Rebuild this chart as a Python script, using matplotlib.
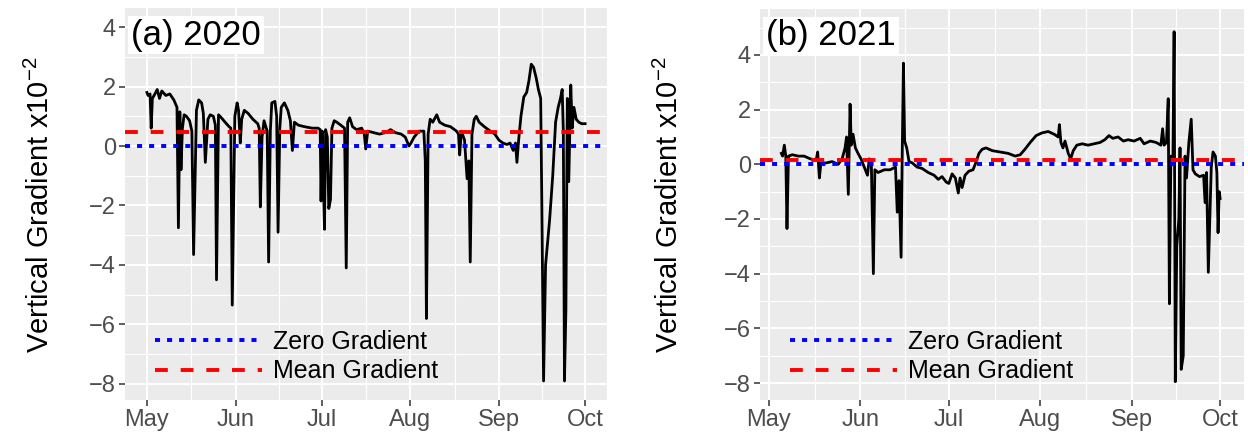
import matplotlib
matplotlib.use("Agg")
import matplotlib.pyplot as plt
import matplotlib.dates as mdates
from matplotlib.lines import Line2D
from matplotlib.ticker import FixedLocator
import numpy as np
import pandas as pd

plt.rcParams['font.family'] = ['Liberation Sans', 'DejaVu Sans']
plt.rcParams['mathtext.default'] = 'regular'

# 2020 series: days after May 1, gradient x1e-2
days_2020 = [0.0, 0.4, 1.1, 1.5, 1.9, 2.8, 3.6, 4.4, 5.2, 6.6, 8.0, 9.4, 10.5, 11.0, 11.5, 11.9,
             12.4, 13.0, 13.8, 14.9, 15.7, 16.3, 17.3, 18.1, 19.1, 19.7, 20.4, 21.3, 22.1, 23.2,
             23.9, 24.3, 25.0, 26.0, 27.3, 28.7, 29.3, 29.8, 30.7, 31.5, 32.0, 32.6, 33.1, 34.0,
             35.3, 37.0, 38.7, 39.2, 39.6, 40.2, 40.9, 42.0, 42.5, 43.1, 43.6, 44.7, 45.3, 45.8,
             46.4, 46.9, 48.0, 49.2, 50.1, 50.8, 51.5, 52.9, 55.0, 57.7, 59.8, 60.5, 60.8, 61.2,
             61.6, 62.0, 62.4, 63.0, 63.5, 64.1, 64.6, 65.4, 66.3, 67.7, 69.0, 69.6, 70.1, 70.8,
             71.8, 73.2, 75.0, 75.9, 76.4, 77.1, 79.1, 81.2, 83.3, 85.1, 86.7, 88.8, 90.2, 91.5,
             92.2, 93.3, 95.0, 96.7, 97.2, 97.6, 98.2, 98.9, 99.8, 101.2, 102.2, 104.0, 106.0,
             108.1, 108.8, 109.2, 109.8, 110.9, 111.8, 112.4, 112.9, 113.5, 114.3, 115.0, 116.0,
             117.8, 119.9, 121.5, 122.9, 124.3, 125.7, 126.8, 127.9, 128.7, 129.2, 129.8, 130.6,
             131.6, 132.6, 133.4, 134.2, 135.0, 135.9, 136.7, 137.5, 137.9, 138.5, 139.2, 140.6,
             141.7, 142.7, 143.6, 144.4, 145.0, 145.4, 145.8, 146.3, 146.8, 147.3, 148.0, 148.5,
             149.1, 149.9, 150.8, 151.8, 153.0]
grad_2020 = [1.8, 1.7, 1.75, 0.6, 1.6, 1.75, 1.9, 1.6, 1.85, 1.7, 1.75, 1.55, 1.3, -2.75, 1.15, -0.8,
             0.6, 1.05, 1.0, 0.85, 0.5, -3.65, 1.2, 1.55, 1.45, 1.1, -0.55, 0.9, 1.05, 1.0,
             0.7, -4.5, 1.05, 0.95, 0.8, 0.65, 0.6, -5.35, 1.0, 1.45, 1.2, 0.1, 0.9, 1.2,
             1.1, 0.9, 0.75, 0.6, -2.05, 0.3, 0.85, 0.5, -3.9, 0.5, 1.45, 1.5, 1.0, -2.9,
             0.6, 1.3, 1.45, 1.2, 0.85, -0.15, 0.8, 0.7, 0.65, 0.6, 0.6, 0.55, -1.85, 0.5,
             -1.0, -2.8, 0.55, 0.3, -2.1, -1.8, 0.6, 0.85, 0.8, 0.7, 0.6, -4.1, 0.8, 0.95,
             0.65, 0.55, 0.6, 0.4, -0.1, 0.5, 0.45, 0.4, 0.45, 0.55, 0.45, 0.4, 0.3, 0.0,
             0.1, 0.3, 0.5, 0.5, -0.5, -5.8, 0.4, 0.9, 0.8, 1.05, 0.8, 0.7, 0.65,
             0.5, 0.4, -0.3, 0.5, 0.2, -1.1, -0.5, -3.9, 0.4, 0.9, 1.0, 0.8,
             0.65, 0.5, 0.4, 0.2, 0.1, 0.05, 0.1, -0.15, 0.1, -0.55, 0.2, 1.0,
             1.65, 1.8, 2.2, 2.75, 2.65, 2.3, 1.9, 1.6, -2.0, -7.9, -4.0, -2.5,
             -1.0, 0.8, 1.3, 1.6, 1.9, 0.5, -7.9, -5.5, 1.6, -1.2, 2.05, 0.6,
             1.3, 0.9, 0.8, 0.75, 0.75]

# 2021 series: days after May 1, gradient x1e-2
days_2021 = [4.2, 4.6, 5.2, 5.7, 6.1, 6.6, 7.9, 9.9, 11.9, 14.0, 16.0, 16.5, 17.1, 17.6, 19.4, 21.4,
             23.5, 24.8, 25.8, 26.3, 26.9, 27.3, 27.5, 27.9, 28.5, 29.3, 30.2, 31.2, 32.3, 33.4,
             34.0, 34.7, 35.4, 35.9, 37.0, 39.1, 41.1, 42.9, 43.5, 44.1, 44.8, 45.2, 45.6, 46.0,
             46.7, 47.5, 48.6, 50.2, 51.9, 54.0, 56.0, 57.4, 58.7, 60.1, 61.0, 62.1, 63.2, 64.2,
             64.8, 65.5, 66.5, 67.8, 69.2, 70.3, 71.2, 72.3, 73.6, 75.7, 78.4, 81.1, 83.5, 85.2,
             86.8, 88.6, 90.6, 92.6, 94.7, 96.7, 98.1, 98.5, 99.0, 99.7, 100.4, 101.5, 102.3,
             103.2, 104.4, 106.2, 108.2, 110.3, 112.3, 113.9, 115.3, 116.6, 118.4, 120.2, 121.8,
             123.8, 125.9, 127.2, 129.3, 131.3, 132.9, 133.5, 134.0, 134.8, 135.4, 135.8, 136.3,
             137.0, 137.4, 137.8, 138.3, 139.0, 139.4, 139.8, 140.5, 141.1, 141.6, 142.4, 143.2,
             143.8, 144.6, 146.0, 147.4, 147.9, 148.4, 149.0, 149.5, 150.0, 150.6, 151.4, 151.9,
             152.3, 152.7, 153.0]
grad_2021 = [0.4, 0.3, 0.7, 0.3, -2.35, 0.3, 0.35, 0.3, 0.3, 0.2, 0.15, 0.45, -0.5, 0.05, 0.05, 0.1,
             0.0, 0.2, 0.6, 1.0, -1.1, 1.0, 2.2, 0.7, 1.1, 0.6, 0.4, 0.2, -0.1, -0.4,
             0.2, 0.1, -4.0, -0.2, -0.3, -0.2, -0.2, -0.1, -1.75, -0.6, -3.4, 0.5, 3.7, 0.85,
             0.6, 0.1, 0.05, -0.1, -0.15, -0.3, -0.4, -0.55, -0.45, -0.65, -0.7, -0.35, -0.5, -1.05,
             -0.5, -0.85, -0.4, -0.25, -0.2, 0.1, 0.4, 0.55, 0.6, 0.5, 0.45, 0.4, 0.3, 0.35,
             0.55, 0.8, 1.05, 1.15, 1.2, 1.1, 1.0, 1.45, 0.8, 0.6, 0.85, 0.4, 0.2,
             0.5, 0.7, 0.75, 0.7, 0.75, 0.8, 0.9, 1.05, 0.95, 1.0, 0.85, 0.9,
             0.85, 0.95, 0.75, 0.85, 0.8, 0.7, 1.3, 0.7, 0.8, 2.4, -5.1, 0.3,
             0.2, 4.85, -7.95, -3.0, -2.0, 0.6, -7.5, -7.0, 0.3, -0.5, 0.8, 1.65,
             -0.2, -0.35, -0.45, -0.4, -1.4, -0.3, -3.95, -2.0, -0.1, 0.45, 0.3, -0.3,
             -2.5, -1.0, -1.25]

mean_2020 = 0.48
mean_2021 = 0.15
y_ticks = [-8, -6, -4, -2, 0, 2, 4]
month_labels = ['May', 'Jun', 'Jul', 'Aug', 'Sep', 'Oct']

panels = [
    dict(year=2020, days=days_2020, grad=grad_2020, mean=mean_2020, title='(a) 2020',
         rect=[125 / 1248, 34 / 434, 482 / 1248, 392 / 434], xpad=(-7.65, 160.65),
         ylim=(-8.54, 4.64), label_x=40 / 1248),
    dict(year=2021, days=days_2021, grad=grad_2021, mean=mean_2021, title='(b) 2021',
         rect=[760 / 1248, 34 / 434, 484 / 1248, 391 / 434], xpad=(-3.05, 161.1),
         ylim=(-8.62, 5.68), label_x=669 / 1248),
]

fig = plt.figure(figsize=(12.48, 4.34), dpi=100)

for p in panels:
    ax = fig.add_axes(p['rect'])
    ax.set_facecolor('#EBEBEB')
    for s in ax.spines.values():
        s.set_visible(False)

    base = pd.Timestamp(f"{p['year']}-05-01")
    x = base + pd.to_timedelta(np.array(p['days']), unit='D')
    ax.plot(x, p['grad'], color='black', lw=2.0, zorder=3)

    # reference lines: zero and mean gradient
    ax.axhline(0, color='#0000FF', lw=2.8, ls=(0, (1.3, 1.8)), zorder=4)
    ax.axhline(p['mean'], color='#FF0000', lw=2.8, ls=(0, (3.3, 3.3)), zorder=4)

    ax.set_xlim(base + pd.Timedelta(days=p['xpad'][0]), base + pd.Timedelta(days=p['xpad'][1]))
    ax.set_ylim(*p['ylim'])

    months = [mdates.date2num(pd.Timestamp(f"{p['year']}-{m:02d}-01")) for m in range(5, 11)]
    ax.xaxis.set_major_locator(FixedLocator(months))
    ax.set_xticklabels(month_labels)
    ax.xaxis.set_minor_locator(FixedLocator([(a + b) / 2 for a, b in zip(months[:-1], months[1:])]))
    ax.set_yticks(y_ticks)
    ax.yaxis.set_minor_locator(FixedLocator([-7, -5, -3, -1, 1, 3, 5]))

    ax.grid(which='major', color='white', lw=1.4)
    ax.grid(which='minor', color='white', lw=0.8)
    ax.set_axisbelow(True)
    ax.tick_params(which='major', length=4.5, width=1.1, color='#333333',
                   labelsize=17, labelcolor='#4D4D4D', pad=2)
    ax.tick_params(which='minor', length=0)

    ax.text(0.0125, 0.931, p['title'], transform=ax.transAxes, fontsize=25,
            ha='left', va='center', zorder=6,
            bbox=dict(facecolor='white', edgecolor='none', pad=2))

    handles = [Line2D([], [], color='#0000FF', lw=2.8, ls=(0, (1.3, 1.8))),
               Line2D([], [], color='#FF0000', lw=2.8, ls=(0, (3.3, 3.3)))]
    ax.legend(handles, ['Zero Gradient', 'Mean Gradient'], loc='lower left',
              bbox_to_anchor=(0.015, -0.015), frameon=False, fontsize=18,
              handlelength=4.3, handletextpad=0.42, labelspacing=0.22)

    fig.text(p['label_x'], 1 - 205 / 434, 'Vertical Gradient x10$^{-2}$', rotation=90,
             ha='center', va='center', fontsize=21)

fig.savefig('out.png', dpi=100)
